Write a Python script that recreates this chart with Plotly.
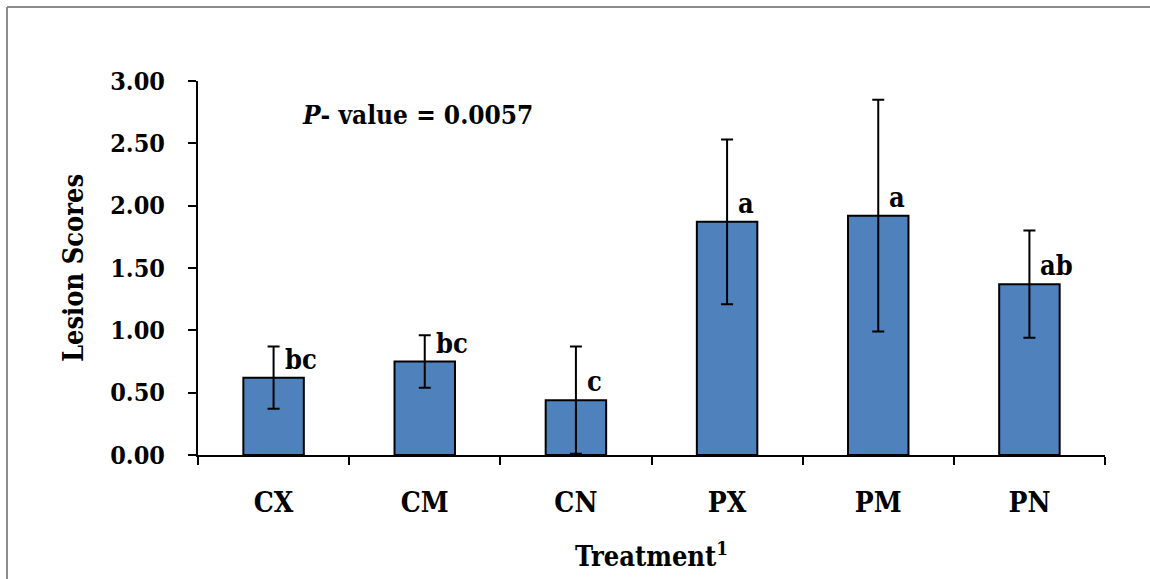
import plotly.graph_objects as go

categories = ["CX", "CM", "CN", "PX", "PM", "PN"]
means = [0.62, 0.75, 0.44, 1.87, 1.92, 1.37]
errors = [0.25, 0.21, 0.43, 0.66, 0.93, 0.43]
letters = ["bc", "bc", "c", "a", "a", "ab"]
y_ticks = [0, 0.5, 1.0, 1.5, 2.0, 2.5, 3.0]
y_ticktext = ["0.00", "0.50", "1.00", "1.50", "2.00", "2.50", "3.00"]

FONT = "DejaVu Serif Condensed, DejaVu Serif"
FS = 26

fig = go.Figure()
fig.add_trace(go.Bar(
    x=categories, y=means,
    marker=dict(color="#4F81BD", line=dict(color="black", width=2)),
    error_y=dict(type="data", array=errors, visible=True, color="black", thickness=2, width=6),
    showlegend=False,
))

for c, m, l in zip(categories, means, letters):
    fig.add_annotation(x=c, y=m, text="<b>%s</b>" % l, showarrow=False,
                       xanchor="left", yanchor="bottom", xshift=9, yshift=1,
                       font=dict(family=FONT, size=27, color="black"))

fig.add_annotation(xref="paper", yref="paper", x=0.1125, y=0.91,
                   text="<b><i>P</i>- value = 0.0057</b>", showarrow=False,
                   xanchor="left", yanchor="middle",
                   font=dict(family=FONT, size=FS, color="black"))

# outer frame (left and top edges)
fig.add_shape(type="line", xref="paper", yref="paper", x0=-0.2106, x1=-0.2106, y0=1.1976, y1=-0.4,
              line=dict(color="#8c8c8c", width=2))
fig.add_shape(type="line", xref="paper", yref="paper", x0=-0.2106, x1=1.1, y0=1.1976, y1=1.1976,
              line=dict(color="#8c8c8c", width=2))

fig.update_layout(
    width=1150, height=579,
    margin=dict(l=198, r=45, t=81, b=121),
    plot_bgcolor="white", paper_bgcolor="white",
    bargap=0.6,
    font=dict(family=FONT, size=FS, color="black"),
    xaxis=dict(
        type="category", showline=True, linecolor="black", linewidth=2,
        ticks="outside", tickson="boundaries", ticklen=8, tickwidth=2, tickcolor="black",
        tickfont=dict(family=FONT, size=28, color="black", weight="bold"),
        ticklabelstandoff=21,
        title=dict(text="<b>Treatment<sup>1</sup></b>",
                   font=dict(family=FONT, size=27), standoff=30),
        showgrid=False, zeroline=False,
    ),
    yaxis=dict(
        range=[0, 3.0], tickvals=y_ticks, ticktext=y_ticktext,
        showline=True, linecolor="black", linewidth=2,
        ticks="outside", ticklen=8, tickwidth=2, tickcolor="black",
        tickfont=dict(family=FONT, size=25, color="black", weight="bold"),
        ticklabelstandoff=18,
        title=dict(text="<b>Lesion Scores</b>",
                   font=dict(family=FONT, size=27), standoff=19),
        showgrid=False, zeroline=False,
    ),
)

fig.write_html("out.html", config={"displayModeBar": False},
               post_script="document.body.style.margin='0';")
